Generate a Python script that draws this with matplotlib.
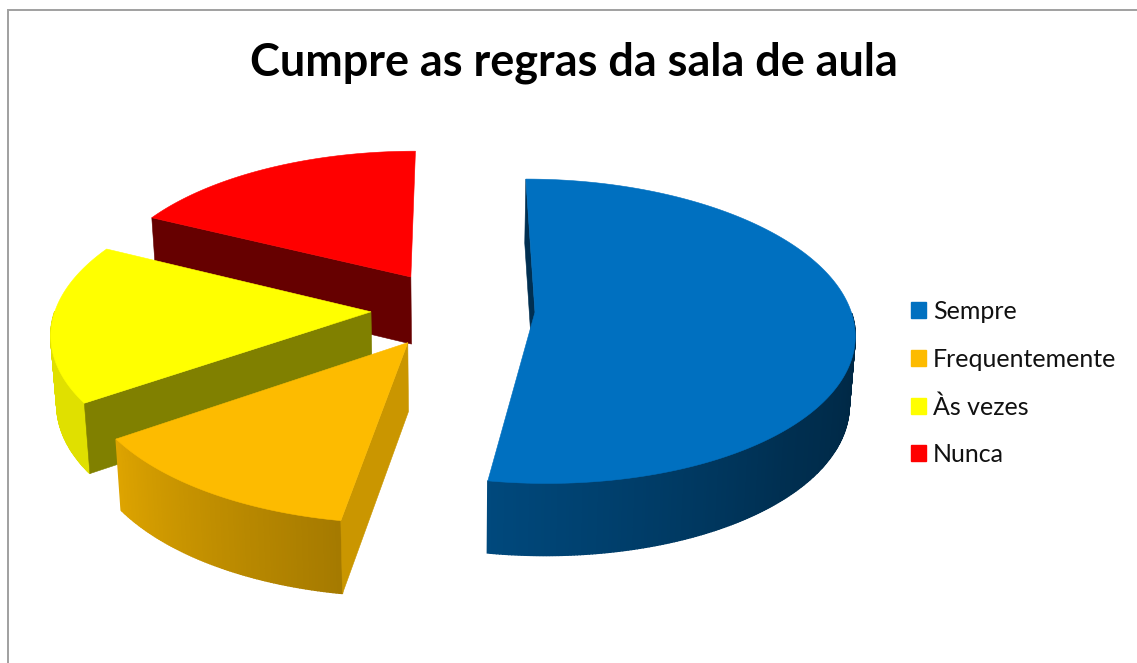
import numpy as np
import matplotlib

matplotlib.use("Agg")
import matplotlib.pyplot as plt
from matplotlib.patches import Patch

TITLE = "Cumpre as regras da sala de aula"
LABELS = ["Sempre", "Frequentemente", "Às vezes", "Nunca"]
VALUES = [52.6, 12.8, 16.9, 17.7]
COLORS = ["#0070C0", "#FDBB00", "#FFFF00", "#FF0000"]
SIDE_SHADES = [0.42, 0.8, 0.5, 0.4]

# angle clockwise from 12 o'clock -> brightness of the outer wall
SHADE_ANGLES = [90, 135, 187, 236, 300]
SHADE_LEVELS = [0.33, 0.42, 0.64, 0.88, 0.88]

# fake Excel 3D view, everything in pixels
OX, OY = 453, 309
SX, SY = 315.5, 149
K = 0.125
EXPLODE = 0.26
DEPTH = 68
BOTTOM_SHRINK = 0.985


def project(x, y, bottom=False):
    w = 1 - K * y
    px = SX * x / w
    py = OY + SY * y / w
    if bottom:
        px = px * BOTTOM_SHRINK
        py = py + DEPTH * (1 + 0.06 * y)
    return OX + px, py


def shade(color, level):
    return tuple(c * level for c in matplotlib.colors.to_rgb(color))


figure = plt.figure(figsize=(11.37, 6.63), dpi=100)
axis = figure.add_axes([0, 0, 1, 1])
axis.set_xlim(0, 1137)
axis.set_ylim(663, 0)
axis.axis("off")

edges = np.cumsum([0] + VALUES) / sum(VALUES) * 360

# back to front, so the nearer slices cover the walls behind them
for i in reversed(range(len(VALUES))):
    start, end = edges[i], edges[i + 1]
    mid = np.radians((start + end) / 2)
    ax0, ay0 = EXPLODE * np.sin(mid), -EXPLODE * np.cos(mid)
    angles = np.radians(np.linspace(start, end, int(end - start) * 2 + 2))
    ux = ax0 + np.sin(angles)
    uy = ay0 - np.cos(angles)
    top_x, top_y = project(ux, uy)
    low_x, low_y = project(ux, uy, bottom=True)
    apex_x, apex_y = project(ax0, ay0)
    apex_lx, apex_ly = project(ax0, ay0, bottom=True)
    levels = np.interp(np.degrees(angles), SHADE_ANGLES, SHADE_LEVELS)
    for k in range(len(angles) - 1):
        # the back half of the rim faces away
        if np.cos(angles[k]) > 0:
            continue
        wall = shade(COLORS[i], levels[k])
        axis.fill([top_x[k], top_x[k + 1], low_x[k + 1], low_x[k]],
                  [top_y[k], top_y[k + 1], low_y[k + 1], low_y[k]],
                  color=wall, linewidth=1.0)
    # only the cut at the start angle faces the viewer
    axis.fill([apex_x, top_x[0], low_x[0], apex_lx], [apex_y, top_y[0], low_y[0], apex_ly],
              color=shade(COLORS[i], SIDE_SHADES[i]), linewidth=0.4)
    axis.fill(np.r_[apex_x, top_x], np.r_[apex_y, top_y], color=COLORS[i], linewidth=0.4)

axis.plot([8, 8, 1137], [663, 10, 10], color="#a0a0a0", linewidth=1.4, solid_joinstyle="miter")

axis.text(574, 63, TITLE, family="Lato", fontweight="bold", fontsize=32.4, color="black",
          ha="center", va="center")

handles = [Patch(color=c, label=l) for c, l in zip(COLORS, LABELS)]
axis.legend(handles=handles, loc="upper left", bbox_to_anchor=(0.8012, 0.5475), frameon=False,
            prop={"family": "Lato", "size": 18}, labelcolor="#111111",
            handlelength=0.6, handleheight=0.6, handletextpad=0.28,
            labelspacing=0.98, borderpad=0, borderaxespad=0)

figure.savefig("out.png", dpi=100)
